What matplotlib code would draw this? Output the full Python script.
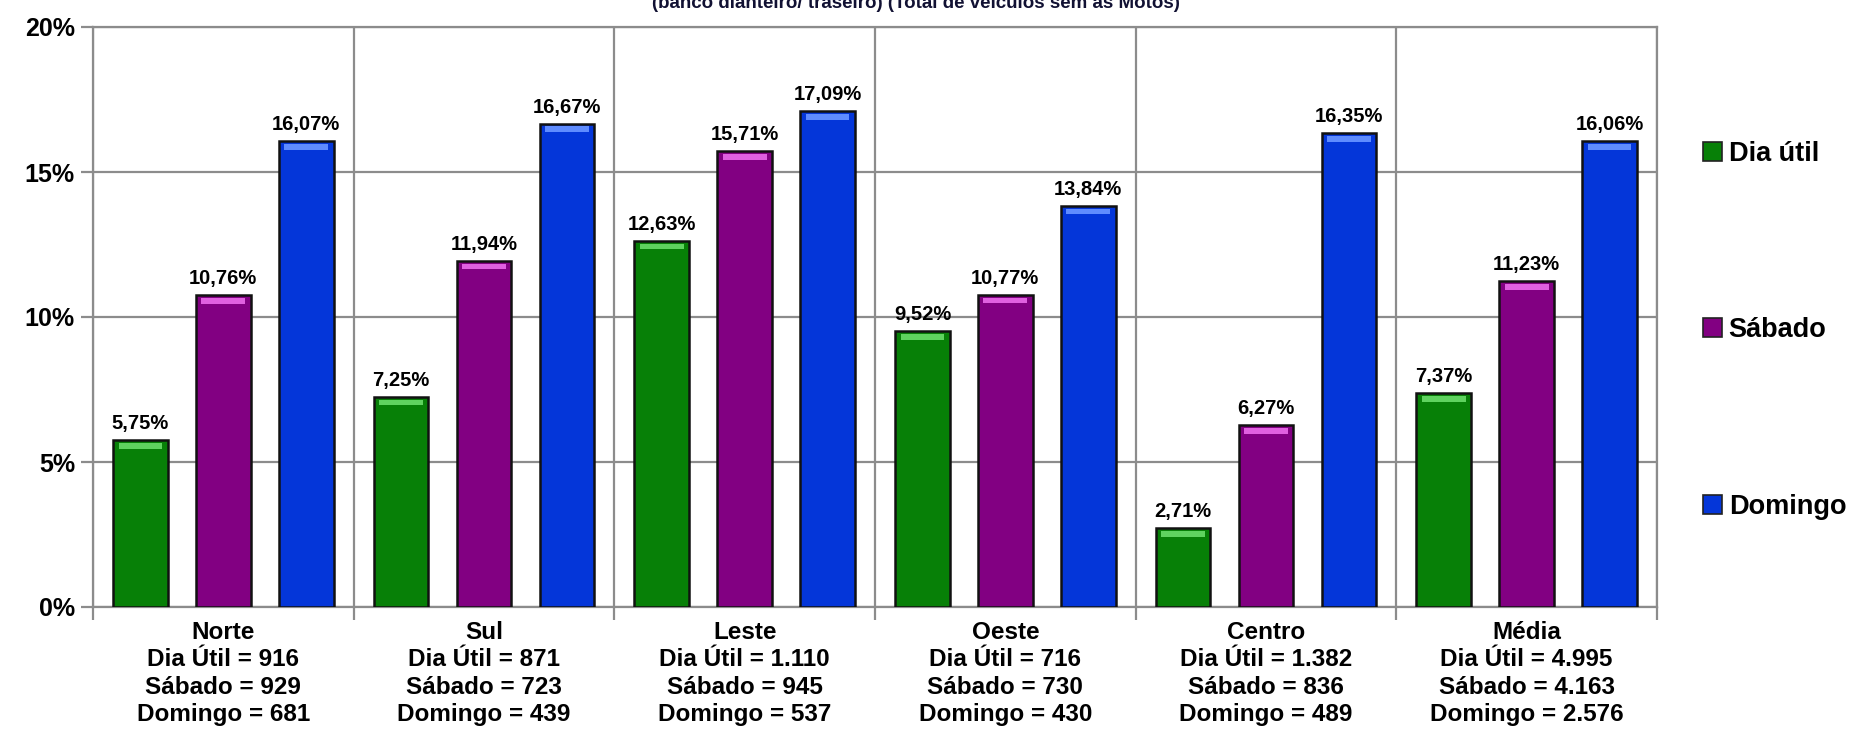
import numpy as np
import matplotlib
matplotlib.use("Agg")
import matplotlib.pyplot as plt
from matplotlib.patches import Patch

plt.rcParams['font.family'] = ['Liberation Sans', 'DejaVu Sans']
plt.rcParams['font.weight'] = 'bold'

# dados
regioes = ["Norte", "Sul", "Leste", "Oeste", "Centro", "Média"]
dia_util = [5.75, 7.25, 12.63, 9.52, 2.71, 7.37]
sabado = [10.76, 11.94, 15.71, 10.77, 6.27, 11.23]
domingo = [16.07, 16.67, 17.09, 13.84, 16.35, 16.06]
n_dia_util = ["916", "871", "1.110", "716", "1.382", "4.995"]
n_sabado = ["929", "723", "945", "730", "836", "4.163"]
n_domingo = ["681", "439", "537", "430", "489", "2.576"]

series = [
    ("Dia útil", dia_util, "#078007", "#5fd35f"),
    ("Sábado", sabado, "#820082", "#e060e0"),
    ("Domingo", domingo, "#0436d9", "#5f8cff"),
]

fig = plt.figure(figsize=(18.52, 7.39), dpi=100)
ax = fig.add_axes([93 / 1852, 1 - 607 / 739, (1657 - 93) / 1852, (607 - 27) / 739])

x = np.arange(len(regioes))
largura = 0.21
passo = 0.318

for i, (nome, valores, cor, luz) in enumerate(series):
    pos = x + (i - 1) * passo
    ax.bar(pos, valores, width=largura, color=cor, edgecolor="#111111",
           linewidth=1.8, zorder=3)
    # brilho no topo (efeito bisel)
    ax.bar(pos, [0.2] * len(valores), bottom=np.array(valores) - 0.3,
           width=largura * 0.8, color=luz, linewidth=0, zorder=4)
    for xb, v in zip(pos, valores):
        ax.annotate(f"{v:.2f}%".replace(".", ","), xy=(xb, v), xytext=(0, 5),
                    textcoords="offset points", ha="center", va="bottom",
                    fontsize=14.5, fontweight="bold", color="black", zorder=5)

ax.set_xlim(-0.5, len(regioes) - 0.5)
ax.set_ylim(0, 20)
ax.set_yticks([0, 5, 10, 15, 20])
ax.set_yticklabels(["0%", "5%", "10%", "15%", "20%"], fontsize=18, fontweight="bold")

rotulos = [f"{r}\nDia Útil = {a}\nSábado = {b}\nDomingo = {c}"
           for r, a, b, c in zip(regioes, n_dia_util, n_sabado, n_domingo)]
ax.set_xticks(x)
ax.set_xticklabels(rotulos, fontsize=17.5, fontweight="bold", linespacing=1.25)
ax.set_xticks(np.arange(len(regioes) + 1) - 0.5, minor=True)
ax.tick_params(axis="x", which="major", length=0, pad=10)
ax.tick_params(axis="x", which="minor", length=9, width=1.6, color="#8c8c8c")
ax.tick_params(axis="y", length=9, width=1.6, color="#8c8c8c", pad=4)

ax.grid(True, axis="y", color="#8c8c8c", linewidth=1.6, zorder=0)
ax.grid(True, axis="x", which="minor", color="#8c8c8c", linewidth=1.6, zorder=0)
for lado in ax.spines.values():
    lado.set_color("#8c8c8c")
    lado.set_linewidth(1.6)

handles = [Patch(facecolor=c, edgecolor="#222222", linewidth=1.2, label=n) for n, _, c, _ in series]
fig.legend(handles=handles, loc="upper left", bbox_to_anchor=(1703 / 1852, 1 - 141 / 739),
           frameon=False, fontsize=19.5, handlelength=0.7, handleheight=0.7,
           handletextpad=0.25, labelspacing=5.55, borderaxespad=0, borderpad=0)

# título cortado no topo, como no original
fig.text(0.4946, 1 - 8 / 739, "(banco dianteiro/ traseiro) (Total de veículos sem as Motos)",
         ha="center", va="baseline", fontsize=13.5, fontweight="bold", color="#111133")

fig.savefig("out.png", dpi=100)
